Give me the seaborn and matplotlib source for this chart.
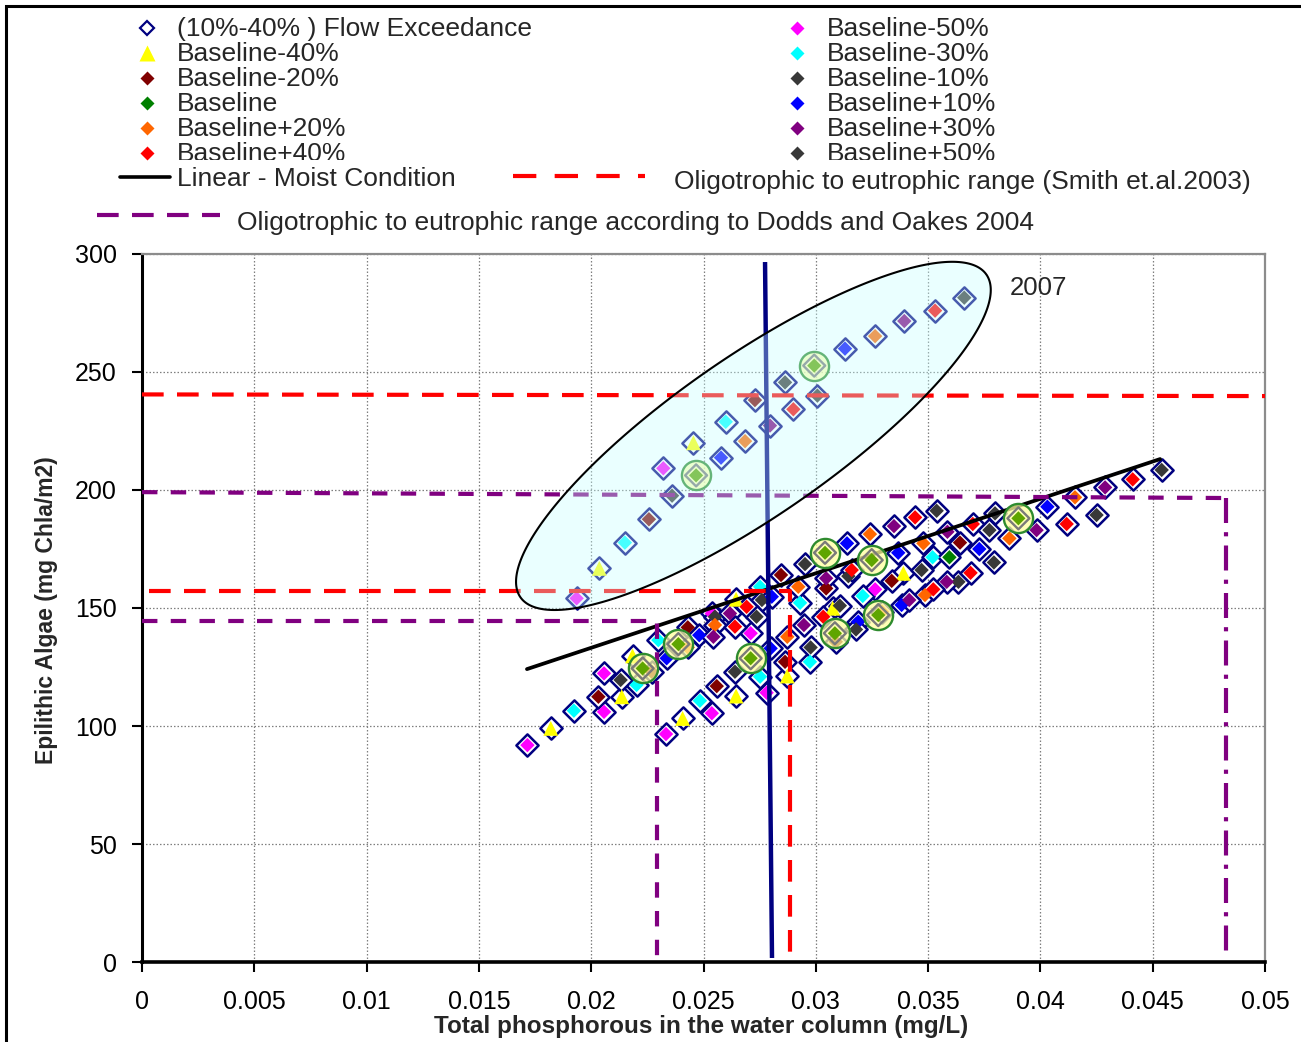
import numpy as np
import matplotlib
matplotlib.use("Agg")
import matplotlib.pyplot as plt
import seaborn as sns
from matplotlib.lines import Line2D
from matplotlib.patches import Polygon, Rectangle

# ---------------- data ----------------
minus50_x = [0.01935, 0.02321, 0.01716, 0.02057, 0.02057, 0.02333, 0.02537, 0.02537, 0.02710, 0.02781, 0.03264]
minus50_y = [154.1, 209.2, 91.9, 106.0, 122.3, 96.6, 105.4, 147.7, 139.3, 114.1, 157.9]

minus40_x = [0.02036, 0.02455, 0.01820, 0.02136, 0.02184, 0.02407, 0.02645, 0.02645, 0.02873, 0.03075, 0.03390]
minus40_y = [166.8, 220.0, 99.0, 112.4, 129.7, 103.2, 112.7, 153.7, 121.2, 149.9, 164.7]

minus30_x = [0.02150, 0.02599, 0.01923, 0.02202, 0.02299, 0.02484, 0.02752, 0.02752, 0.02930, 0.02974, 0.03209, 0.03520]
minus30_y = [177.7, 228.9, 106.5, 117.4, 136.4, 110.7, 120.9, 159.0, 152.2, 127.2, 155.1, 171.5]

minus20_x = [0.02257, 0.02729, 0.02032, 0.02269, 0.02430, 0.02559, 0.02845, 0.02863, 0.03046, 0.03089, 0.03338, 0.03642]
minus20_y = [187.6, 238.1, 112.4, 123.0, 141.8, 116.9, 164.0, 127.2, 158.3, 135.7, 161.5, 177.7]

minus10_x = [0.02360, 0.02863, 0.02131, 0.02640, 0.02551, 0.02760, 0.02977, 0.03145, 0.03471, 0.03635, 0.03793]
minus10_y = [197.6, 245.6, 119.5, 123.0, 146.3, 153.4, 133.3, 163.5, 166.1, 161.1, 169.3]

baseline_x = [0.03595]
baseline_y = [171.5]

baseline_circled_x = [0.02467, 0.02993, 0.02229, 0.02388, 0.02710, 0.03041, 0.03085, 0.03249, 0.03278, 0.03902]
baseline_circled_y = [206.2, 252.7, 124.4, 134.7, 128.7, 173.4, 139.3, 170.3, 147.0, 188.0]

plus10_x = [0.02578, 0.03130, 0.02336, 0.02481, 0.02799, 0.02804, 0.03139, 0.03189, 0.03367, 0.03382, 0.03728, 0.04031]
plus10_y = [213.7, 259.9, 128.7, 138.5, 132.9, 154.8, 177.4, 144.2, 173.4, 151.3, 175.0, 192.9]

plus20_x = [0.02685, 0.03264, 0.02430, 0.02551, 0.02873, 0.02922, 0.03241, 0.03295, 0.03479, 0.03486, 0.03862, 0.04154]
plus20_y = [220.7, 265.2, 133.3, 142.8, 137.8, 159.0, 181.3, 148.5, 177.4, 155.5, 179.5, 196.9]

plus30_x = [0.02796, 0.03394, 0.02544, 0.02618, 0.02947, 0.03046, 0.03348, 0.03416, 0.03586, 0.03583, 0.03983, 0.04288]
plus30_y = [227.3, 271.6, 137.8, 147.7, 142.8, 162.6, 184.7, 153.4, 182.3, 161.1, 183.0, 201.1]

plus40_x = [0.02900, 0.03531, 0.02692, 0.02640, 0.03033, 0.03160, 0.03442, 0.03523, 0.03699, 0.03689, 0.04117, 0.04411]
plus40_y = [234.2, 276.0, 150.5, 142.1, 146.3, 166.1, 188.4, 157.9, 185.6, 164.9, 185.6, 204.5]

plus50_x = [0.03007, 0.03661, 0.02736, 0.03107, 0.03179, 0.03538, 0.03773, 0.03798, 0.04250, 0.04540, 0.02952]
plus50_y = [240.0, 281.5, 146.3, 151.0, 140.9, 191.2, 183.0, 190.1, 189.4, 208.5, 168.6]

# linear trend (moist condition)
trend_x = [0.01714, 0.04533]
trend_slope = 3157.0
trend_intercept = 70.0

# vertical navy line
navy_x = [0.02805, 0.02774]
navy_y = [1.7, 296.6]

# Smith et al. 2003 range
smith_hi_x = [0.0, 0.05]
smith_hi_y = [240.5, 239.8]
smith_lo_x = [0.0003, 0.02885, 0.02885]
smith_lo_y = [157.2, 157.2, 1.5]

# Dodds and Oakes 2004 range
dodds_hi_x = [0.0, 0.04826]
dodds_hi_y = [199.1, 196.6]
dodds_hi_vx = [0.04826, 0.04826]
dodds_hi_vy = [196.6, 1.5]
dodds_lo_x = [0.0, 0.02295, 0.02295]
dodds_lo_y = [144.7, 144.7, 1.5]

x_ticks = [0, 0.005, 0.01, 0.015, 0.02, 0.025, 0.03, 0.035, 0.04, 0.045, 0.05]
x_tick_labels = ["0", "0.005", "0.01", "0.015", "0.02", "0.025", "0.03", "0.035", "0.04", "0.045", "0.05"]
y_ticks = [0, 50, 100, 150, 200, 250, 300]

series = [
    ("Baseline-50%", minus50_x, minus50_y, "#FF00FF", "D"),
    ("Baseline-40%", minus40_x, minus40_y, "#FFFF00", "^"),
    ("Baseline-30%", minus30_x, minus30_y, "#00FFFF", "D"),
    ("Baseline-20%", minus20_x, minus20_y, "#800000", "D"),
    ("Baseline-10%", minus10_x, minus10_y, "#383838", "D"),
    ("Baseline", baseline_x, baseline_y, "#008000", "D"),
    ("Baseline+10%", plus10_x, plus10_y, "#0000FF", "D"),
    ("Baseline+20%", plus20_x, plus20_y, "#FF6600", "D"),
    ("Baseline+30%", plus30_x, plus30_y, "#800080", "D"),
    ("Baseline+40%", plus40_x, plus40_y, "#FF0000", "D"),
    ("Baseline+50%", plus50_x, plus50_y, "#383838", "D"),
]
colors = {name: c for name, _, _, c, _ in series}
markers = {name: m for name, _, _, _, m in series}

# ---------------- figure ----------------
sns.set_theme(style="white")
plt.rcParams["font.family"] = ["Liberation Sans", "DejaVu Sans"]

W, H = 1301, 1042
fig = plt.figure(figsize=(W / 100, H / 100), dpi=100)
fig.patch.set_facecolor("white")
AL, AR, AT, AB = 142, 1265, 254, 962
ax = fig.add_axes([AL / W, 1 - AB / H, (AR - AL) / W, (AB - AT) / H])
ax.set_facecolor("white")

# open diamonds (flow exceedance) at every point
open_x = np.concatenate([np.asarray(s[1]) for s in series])
open_y = np.concatenate([np.asarray(s[2]) for s in series])
sns.scatterplot(x=open_x, y=open_y, marker="D", s=128, color="white",
                edgecolor="#000080", linewidth=1.8, zorder=3, ax=ax, legend=False)

for name, xs, ys, c, m in series:
    sns.scatterplot(x=xs, y=ys, marker=m, s=(115 if m == "^" else 54), color=c,
                    edgecolor="none", linewidth=0, zorder=4, ax=ax, legend=False)

# circled baseline points
sns.scatterplot(x=baseline_circled_x, y=baseline_circled_y, marker="o", s=440,
                color=(1.0, 1.0, 0.62, 0.75), edgecolor="#2E8B2E", linewidth=1.7,
                zorder=5.5, ax=ax, legend=False)
sns.scatterplot(x=baseline_circled_x, y=baseline_circled_y, marker="D", s=125,
                color="none", edgecolor="#7A7A7A", linewidth=1.7, zorder=5.6, ax=ax, legend=False)
sns.scatterplot(x=baseline_circled_x, y=baseline_circled_y, marker="D", s=52,
                color="#5FA500", edgecolor="none", linewidth=0, zorder=5.7, ax=ax, legend=False)

# trend line
tx = np.asarray(trend_x)
sns.lineplot(x=tx, y=trend_slope * tx + trend_intercept, color="black", linewidth=2.7,
             zorder=5, ax=ax, legend=False)

# navy vertical line
ax.plot(navy_x, navy_y, color="#000080", linewidth=3.2, zorder=5, solid_capstyle="butt")

# Smith range (red dashed)
red_dash = (0, (5.2, 3.2))
ax.plot(smith_hi_x, smith_hi_y, color="#FF0000", linewidth=3.0, linestyle=red_dash, zorder=5)
ax.plot(smith_lo_x, smith_lo_y, color="#FF0000", linewidth=3.0, linestyle=red_dash, zorder=5)

# Dodds range (purple)
pur_dash = (0, (3.7, 3.2))
ax.plot(dodds_hi_x, dodds_hi_y, color="#800080", linewidth=3.0, linestyle=pur_dash, zorder=5)
ax.plot(dodds_hi_vx, dodds_hi_vy, color="#800080", linewidth=3.0,
        linestyle=(0, (6.0, 2.2, 1.0, 2.2)), zorder=5)
ax.plot(dodds_lo_x, dodds_lo_y, color="#800080", linewidth=3.0, linestyle=pur_dash, zorder=5)

# 2007 ellipse (annotation shape)
cx, cy, ea, eb, th = 753.4, 435.9, 283.4, 79.6, np.deg2rad(34.7)
t = np.linspace(0, 2 * np.pi, 500)
dx = ea * np.cos(th) * np.cos(t) - eb * np.sin(th) * np.sin(t)
dy = ea * np.sin(th) * np.cos(t) + eb * np.cos(th) * np.sin(t)
fx = (cx - AL + dx) / (AR - AL)
fy = (AB - cy + dy) / (AB - AT)
ax.add_patch(Polygon(np.c_[fx, fy], closed=True, transform=ax.transAxes,
                     facecolor=(0.78, 1.0, 1.0, 0.36), edgecolor="black", linewidth=1.5, zorder=7))
ax.text(0.0399, 285.5, "2007", fontsize=18.5, ha="center", va="center", zorder=8)

# axes styling
ax.set_xlim(0, 0.05)
ax.set_ylim(0, 300)
ax.set_xticks(x_ticks)
ax.set_xticklabels(x_tick_labels)
ax.set_yticks(y_ticks)
ax.grid(True, color="#7F7F7F", linestyle=(0, (1.2, 1.6)), linewidth=0.9, zorder=0.5)
ax.set_axisbelow(True)
ax.tick_params(axis="both", which="major", bottom=True, left=True, direction="out",
               length=7, width=1.5, color="black", labelsize=18, labelcolor="black")
ax.tick_params(axis="x", pad=13)
ax.tick_params(axis="y", pad=11)
for side in ["top", "right"]:
    ax.spines[side].set_color("#8C8C8C")
    ax.spines[side].set_linewidth(1.6)
ax.spines["left"].set_color("black")
ax.spines["left"].set_linewidth(2.2)
ax.spines["bottom"].set_color("black")
ax.spines["bottom"].set_linewidth(2.6)
ax.set_xlabel("")
ax.set_ylabel("")

fig.text(701 / W, 1 - 1026 / H, "Total phosphorous in the water column (mg/L)",
         ha="center", va="center", fontsize=17.5, fontweight="bold")
fig.text(47 / W, 1 - 610 / H, "Epilithic Algae (mg Chla/m2)", rotation=90,
         ha="center", va="center", fontsize=16.5, fontweight="bold")

# ---------------- legend (drawn manually to mimic the layout) ----------------
def fx_(px):
    return px / W


def fy_(py):
    return 1 - py / H


clip_rect = Rectangle((0, fy_(160)), 1, fy_(8) - fy_(160), transform=fig.transFigure,
                      visible=False)
fig.add_artist(clip_rect)

left_col = ["(10%-40% ) Flow Exceedance", "Baseline-40%", "Baseline-20%", "Baseline",
            "Baseline+20%", "Baseline+40%"]
right_col = ["Baseline-50%", "Baseline-30%", "Baseline-10%", "Baseline+10%",
             "Baseline+30%", "Baseline+50%"]
row_base = [36, 61, 86, 111, 136, 161]
LFS = 19
for col, mx, tx_ in [(left_col, 147, 177), (right_col, 797, 827)]:
    for i, name in enumerate(col):
        mcy = row_base[i] - 8
        if name.startswith("(10%"):
            ln = Line2D([fx_(mx)], [fy_(mcy)], marker="D", markersize=7, markerfacecolor="white",
                        markeredgecolor="#000080", markeredgewidth=1.6, linestyle="none",
                        transform=fig.transFigure)
        else:
            m = markers[name]
            ln = Line2D([fx_(mx)], [fy_(mcy)], marker=m, markersize=(11 if m == "^" else 7),
                        markerfacecolor=colors[name], markeredgecolor="none", linestyle="none",
                        transform=fig.transFigure)
        ln.set_clip_path(clip_rect)
        fig.add_artist(ln)
        txt = fig.text(fx_(tx_), fy_(row_base[i]), name, fontsize=LFS, ha="left", va="baseline")
        txt.set_clip_path(clip_rect)

# Linear - Moist Condition
fig.add_artist(Line2D([fx_(120), fx_(170)], [fy_(177)] * 2, color="black", linewidth=2.6,
                      transform=fig.transFigure))
fig.text(fx_(177), fy_(186), "Linear - Moist Condition", fontsize=LFS, ha="left", va="baseline")

# Smith legend
fig.add_artist(Line2D([fx_(513), fx_(645)], [fy_(176)] * 2, color="#FF0000", linewidth=3.0,
                      linestyle=(0, (5.6, 4.4)), transform=fig.transFigure))
fig.text(fx_(674), fy_(189), "Oligotrophic to eutrophic range (Smith et.al.2003)",
         fontsize=LFS, ha="left", va="baseline")

# Dodds legend
fig.add_artist(Line2D([fx_(97), fx_(220)], [fy_(215)] * 2, color="#800080", linewidth=3.0,
                      linestyle=(0, (5.2, 3.2)), transform=fig.transFigure))
fig.text(fx_(237), fy_(230), "Oligotrophic to eutrophic range according to Dodds and Oakes 2004",
         fontsize=LFS, ha="left", va="baseline")

# chart border
fig.add_artist(Rectangle((fx_(6), fy_(1100)), 2.0, fy_(6) - fy_(1100), transform=fig.transFigure,
                         fill=False, edgecolor="black", linewidth=2.2))

fig.savefig("out.png", dpi=100, facecolor="white")
